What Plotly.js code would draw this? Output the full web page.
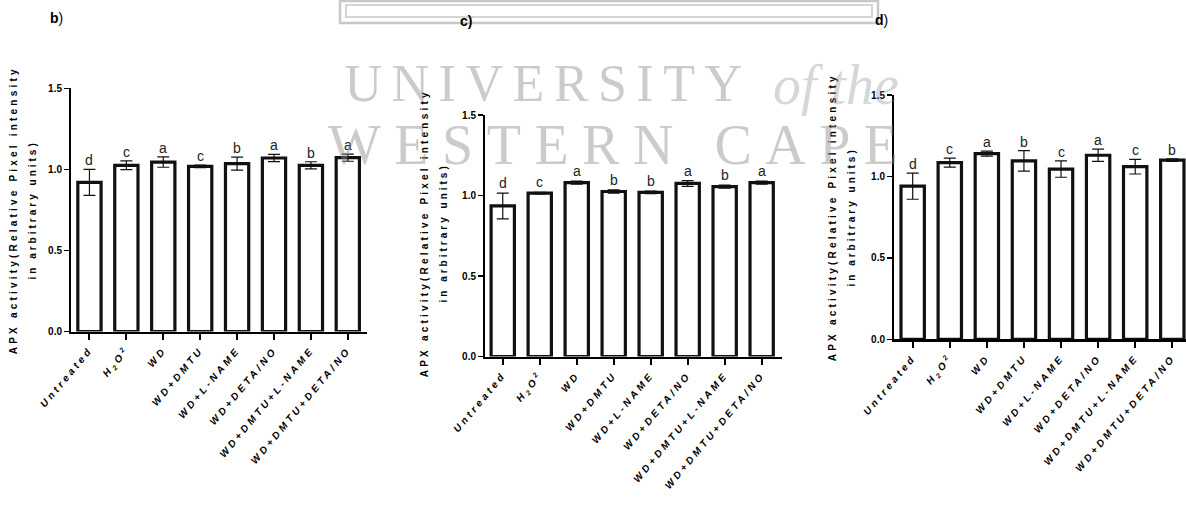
<!DOCTYPE html>
<html>
<head>
<meta charset="utf-8">
<script src="https://cdn.plot.ly/plotly-3.0.1.min.js"></script>
<style>
html,body{margin:0;padding:0;background:#fff;}
#chart{width:1186px;height:510px;}
</style>
</head>
<body>
<div id="chart"></div>
<script>
// ---------- DATA ----------
var categories = ["Untreated","H2O2","WD","WD+DMTU","WD+L-NAME","WD+DETA/NO","WD+DMTU+L-NAME","WD+DMTU+DETA/NO"];
var tickLabels = ["Untreated","H<sub>2</sub>O<sup>2</sup>","WD","WD+DMTU","WD+L-NAME","WD+DETA/NO","WD+DMTU+L-NAME","WD+DMTU+DETA/NO"];

var bMeans   = [0.92, 1.025, 1.045, 1.018, 1.035, 1.07, 1.025, 1.072];
var bErrors  = [0.08, 0.027, 0.032, 0.008, 0.04, 0.022, 0.022, 0.022];
var bLetters = ["d","c","a","c","b","a","b","a"];

var cMeans   = [0.935, 1.015, 1.08, 1.025, 1.02, 1.075, 1.055, 1.08];
var cErrors  = [0.08, 0.005, 0.01, 0.01, 0.008, 0.018, 0.01, 0.01];
var cLetters = ["d","c","a","b","b","a","b","a"];

var dMeans   = [0.94, 1.085, 1.14, 1.095, 1.045, 1.13, 1.06, 1.1];
var dErrors  = [0.08, 0.028, 0.015, 0.063, 0.05, 0.038, 0.045, 0.008];
var dLetters = ["d","c","a","b","c","a","c","b"];

var yTickVals = [0, 0.5, 1.0, 1.5];
var yTitleLine1 = "APX activity(Relative Pixel intensity";
var yTitleLine2 = "in arbitrary units)";
var panelLabels = ["<b>b</b>)", "<b>c)</b>", "<b>d</b>)"];
var watermark1 = "UNIVERSITY";
var watermark2 = "of the";
var watermark3 = "WESTERN CAPE";

// ---------- LAYOUT HELPERS ----------
var W = 1186, H = 510;
function px(x){ return x / W; }
function py(y){ return 1 - y / H; }
var FONT = "Liberation Sans, Arial, sans-serif";
var SERIF = "Liberation Serif, Times New Roman, serif";

var panels = [
  {means:bMeans, errors:bErrors, letters:bLetters, xa:'x',  ya:'y',  x0:71,  x1:367,  y0:331.5, y1:88.3, range:[-0.5,7.52], t1x:13,  t2x:32,  tcy:210, lab:[56,18],  lshift:-1},
  {means:cMeans, errors:cErrors, letters:cLetters, xa:'x2', ya:'y2', x0:485, x1:782,  y0:356.5, y1:115,  range:[-0.48,7.55], t1x:425, t2x:444, tcy:233, lab:[466,21], lshift:0},
  {means:dMeans, errors:dErrors, letters:dLetters, xa:'x3', ya:'y3', x0:894, x1:1186, y0:339.3, y1:95,   range:[-0.504,7.37], t1x:832, t2x:851, tcy:217, lab:[881,20], lshift:-1}
];

var traces = [];
var layout = {
  width: W, height: H,
  margin: {l:0, r:0, t:0, b:0},
  paper_bgcolor: '#ffffff',
  plot_bgcolor: 'rgba(0,0,0,0)',
  showlegend: false,
  annotations: [],
  shapes: [],
  font: {family: FONT, color: '#000'}
};
var spacedAnn = {}; // annotation index -> letter-spacing

panels.forEach(function(p, k){
  var sfx = k === 0 ? '' : String(k + 1);
  traces.push({
    type: 'bar',
    x: categories,
    y: p.means,
    xaxis: p.xa, yaxis: p.ya,
    width: 0.63,
    marker: {color: '#ffffff', line: {color: '#111', width: 3.2}},
    error_y: {type: 'data', array: p.errors, visible: true, color: '#111', thickness: 1.2, width: 6},
    hoverinfo: 'skip'
  });
  layout['xaxis' + sfx] = {
    domain: [px(p.x0), px(p.x1)],
    anchor: p.ya,
    type: 'category',
    range: p.range,
    tickmode: 'array',
    tickvals: categories,
    ticktext: tickLabels,
    tickangle: -50,
    tickfont: {family: FONT, size: 10, color: '#000', weight: 'bold', style: 'italic'},
    showline: true, linecolor: '#000', linewidth: 2.5,
    ticks: 'outside', ticklen: 6, tickwidth: 2, tickcolor: '#000',
    showgrid: false, zeroline: false, fixedrange: true
  };
  layout['yaxis' + sfx] = {
    domain: [py(p.y0), py(p.y1)],
    anchor: p.xa,
    range: [0, 1.5],
    tickmode: 'array',
    tickvals: yTickVals,
    tickformat: '.1f',
    tickfont: {family: FONT, size: 10, color: '#000', weight: 'bold'},
    showline: true, linecolor: '#000', linewidth: 2,
    ticks: 'outside', ticklen: 5, tickwidth: 1.5, tickcolor: '#000',
    showgrid: false, zeroline: false, fixedrange: true
  };
  // significance letters
  p.letters.forEach(function(L, i){
    layout.annotations.push({
      xref: p.xa, yref: p.ya, x: categories[i], y: p.means[i] + p.errors[i],
      text: L, showarrow: false, xanchor: 'center', yanchor: 'bottom', yshift: p.lshift,
      font: {family: FONT, size: 14, color: '#222'}
    });
  });
  // y-axis titles (two lines)
  spacedAnn[layout.annotations.length] = '3.2px';
  layout.annotations.push({
    xref: 'paper', yref: 'paper', x: px(p.t1x), y: py(p.tcy),
    text: yTitleLine1, textangle: -90, showarrow: false, xanchor: 'center', yanchor: 'middle',
    font: {family: FONT, size: 10, color: '#000', weight: 'bold'}
  });
  spacedAnn[layout.annotations.length] = '3px';
  layout.annotations.push({
    xref: 'paper', yref: 'paper', x: px(p.t2x), y: py(p.tcy),
    text: yTitleLine2, textangle: -90, showarrow: false, xanchor: 'center', yanchor: 'middle',
    font: {family: FONT, size: 10, color: '#000', weight: 'bold'}
  });
  // panel label
  layout.annotations.push({
    xref: 'paper', yref: 'paper', x: px(p.lab[0]), y: py(p.lab[1]),
    text: panelLabels[k], showarrow: false, xanchor: 'center', yanchor: 'middle',
    font: {family: FONT, size: 14, color: '#000'}
  });
});

// watermark (letter-spacing grows text symmetrically, so centre-anchored)
var WM = 'rgba(140,140,140,0.45)';
spacedAnn[layout.annotations.length] = '9.5px';
layout.annotations.push({
  xref: 'paper', yref: 'paper', x: px(548), y: py(84), text: watermark1, showarrow: false,
  xanchor: 'center', yanchor: 'middle',
  font: {family: SERIF, size: 52, color: WM}
});
layout.annotations.push({
  xref: 'paper', yref: 'paper', x: px(836), y: py(85), text: '<i>' + watermark2 + '</i>', showarrow: false,
  xanchor: 'center', yanchor: 'middle',
  font: {family: SERIF, size: 56, color: 'rgba(140,140,140,0.35)'}
});
spacedAnn[layout.annotations.length] = '13.5px';
layout.annotations.push({
  xref: 'paper', yref: 'paper', x: px(620), y: py(145), text: watermark3, showarrow: false,
  xanchor: 'center', yanchor: 'middle',
  font: {family: SERIF, size: 56, color: WM}
});
// watermark frame at top
layout.shapes.push({type: 'rect', xref: 'paper', yref: 'paper', x0: px(340), x1: px(878), y0: py(23), y1: py(1),
  line: {color: '#c8c8c8', width: 2.5}, fillcolor: 'rgba(0,0,0,0)'});
layout.shapes.push({type: 'rect', xref: 'paper', yref: 'paper', x0: px(346), x1: px(872), y0: py(17), y1: py(5),
  line: {color: '#d4d4d4', width: 2}, fillcolor: 'rgba(0,0,0,0)'});

Plotly.newPlot('chart', traces, layout, {staticPlot: true, displayModeBar: false}).then(function(gd){
  gd.querySelectorAll('.xtick text, .x2tick text, .x3tick text').forEach(function(t){ t.style.letterSpacing = '3.2px'; });
  var anns = gd.querySelectorAll('.annotation');
  anns.forEach(function(a){
    var idx = a.getAttribute('data-index');
    if (spacedAnn[idx]) {
      a.querySelectorAll('text').forEach(function(t){ t.style.letterSpacing = spacedAnn[idx]; });
    }
  });
});
</script>
</body>
</html>
